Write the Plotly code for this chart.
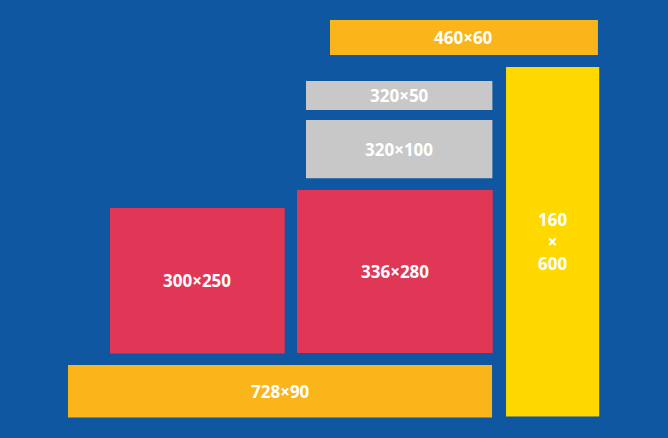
import plotly.graph_objects as go

# ad formats (width x height in ad pixels)
names = ["460×60", "320×50", "320×100", "336×280", "300×250", "728×90", "160<br>×<br>600"]
widths = [460, 320, 320, 336, 300, 728, 160]
heights = [60, 50, 100, 280, 250, 90, 600]

# layout offsets (top-left corner, same units)
lefts = [566.5, 525.3, 525.3, 509.9, 188.8, 116.7, 868.7]
tops = [34.3, 139.0, 206.0, 326.2, 357.0, 626.6, 115.0]
colors = ["#f9b51a", "#c8c8c8", "#c8c8c8", "#e13757", "#e13757", "#f9b51a", "#ffd800"]

scale = 0.5825
W, H = 668, 438

fig = go.Figure()
for n, w, h, x0, y0, c in zip(names, widths, heights, lefts, tops, colors):
    fig.add_shape(type="rect", x0=x0, x1=x0 + w, y0=y0, y1=y0 + h,
                  fillcolor=c, line_width=0, layer="below")
    fig.add_annotation(x=x0 + w / 2, y=y0 + h / 2, text="<b>" + n + "</b>",
                       showarrow=False, font=dict(color="white", size=17, family="Open Sans"))

fig.update_xaxes(range=[0, W / scale], visible=False, fixedrange=True)
fig.update_yaxes(range=[H / scale, 0], visible=False, fixedrange=True)
fig.update_layout(width=W, height=H, margin=dict(l=0, r=0, t=0, b=0),
                  paper_bgcolor="#0f57a0", plot_bgcolor="#0f57a0", showlegend=False)
fig.write_html("out.html", config={"displayModeBar": False})

# drop the default page margin so the chart fills the window
with open("out.html", encoding="utf-8") as f:
    html = f.read()
html = html.replace("<body>", '<body style="margin:0;background:#0f57a0">', 1)
with open("out.html", "w", encoding="utf-8") as f:
    f.write(html)
